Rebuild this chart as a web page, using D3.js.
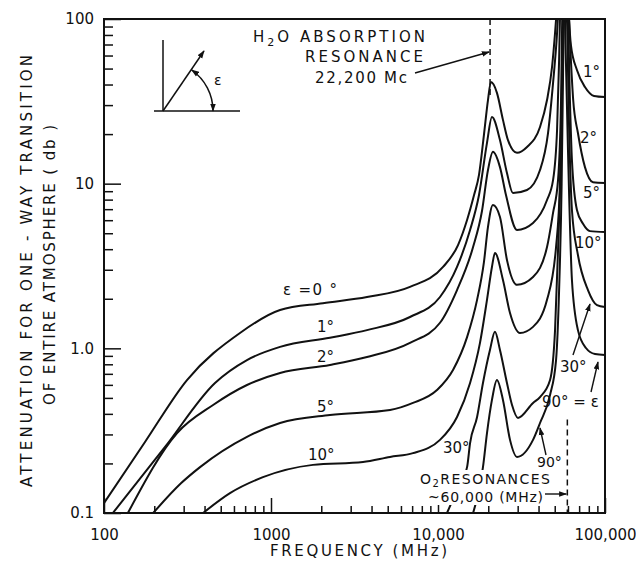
<!DOCTYPE html>
<html>
<head>
<meta charset="utf-8">
<script src="https://cdn.jsdelivr.net/npm/d3@7"></script>
<style>
body { margin: 0; background: #fff; }
text { font-family: "DejaVu Sans", sans-serif; fill: #111; }
.tick text { font-size: 15px; }
.tick line { stroke: #111; stroke-width: 1.5; }
</style>
</head>
<body>
<div id="chart"></div>
<script>
// [frecuencia MHz, atenuacion db] leidos de la grafica
// cada angulo: rama izquierda (hasta el pico de O2) y rama derecha
var elev0 = [[100,0.115],[176,0.27],[314,0.642],[652,1.24],[1133,1.71],[2046,1.88],[3758,2.05],[6795,2.36],[10720,3.12],[13180,4.24],[14930,6.02],[16440,8.53],[17600,11.3],[18840,19.8],[19920,32.2],[20750,41.4],[22540,35.6],[24490,24.4],[26240,18.4],[29720,15.4],[34120,16.7],[40820,22.1],[44960,32.2],[48180,51.1],[50220,82.2],[51630,120]];
var elev1 = [[113,0.1],[232,0.252],[462,0.616],[718,0.849],[1133,1.02],[2254,1.16],[3758,1.29],[6795,1.55],[10280,2.05],[13000,3.12],[15560,5.23],[17600,8.53],[19650,17.7],[21040,25.4],[23500,18.4],[25880,11.6],[28110,8.77],[34120,9.15],[40820,12.1],[45590,20.3],[48850,40.8],[51630,82.2],[52800,125]];
var elev2 = [[139,0.1],[274,0.306],[450,0.453],[718,0.599],[1133,0.708],[2254,0.792],[3758,0.885],[6795,1.08],[10280,1.43],[13000,2.26],[16220,4.12],[18340,6.82],[19920,12.1],[21330,15.6],[23500,12.6],[25530,8.53],[29720,5.23],[37070,5.77],[44960,7.96],[48850,10.5],[51630,21.2],[53110,56.4],[54000,125]];
var elev5 = [[197,0.1],[290,0.152],[376,0.19],[718,0.29],[1133,0.352],[2254,0.394],[5162,0.422],[7080,0.466],[9860,0.558],[12300,0.739],[14930,1.17],[17140,1.97],[18840,3.34],[19920,5.46],[21330,7.42],[23500,6.28],[25880,3.44],[29720,2.43],[37070,2.71],[44960,4.12],[48850,6.64],[52330,10.5],[54560,32.2],[55600,125]];
var elev10 = [[392,0.1],[568,0.132],[895,0.165],[1783,0.196],[3555,0.204],[5162,0.219],[7080,0.231],[10280,0.278],[13000,0.383],[15560,0.616],[17840,1.08],[19650,1.97],[21040,3.12],[21930,3.79],[24490,2.6],[26990,1.64],[30970,1.24],[37070,1.35],[44960,1.97],[50920,4.12],[53810,10.5],[55340,42.6],[56200,125]];
var elev30 = [[11320,0.1],[13180,0.142],[14930,0.19],[15560,0.266],[17140,0.383],[18590,0.616],[20470,0.977],[21930,1.26],[23500,0.977],[25880,0.616],[27750,0.453],[30120,0.378],[37070,0.466],[40820,0.506],[46880,0.642],[50220,1.29],[52330,3.95],[54560,16],[55800,60],[56500,125]];
var elev90 = [[16220,0.1],[17600,0.138],[18590,0.19],[19650,0.306],[21040,0.486],[22540,0.642],[24490,0.486],[26990,0.278],[29720,0.219],[37070,0.278],[40820,0.352],[46880,0.521],[50920,0.849],[53110,2.26],[55000,10],[56140,50],[56900,125]];

var right2 = [[60500,125],[61000,100],[62500,69.5],[67920,49],[75850,38.6],[85900,34.1],[100000,33.6]];
var right5 = [[59700,125],[60800,100],[62500,56],[64500,32.2],[68850,20.3],[75850,12.6],[84700,10.2],[100000,10.1]];
var right10 = [[58800,125],[60020,100],[61660,32.2],[63390,13.9],[67920,6.92],[73850,5.71],[81280,5.15],[100000,5.09]];
var right30 = [[58000,125],[59150,100],[60800,24.4],[63390,6.92],[68850,3.69],[79070,2.26],[89560,1.83],[100000,1.78]];
var right90 = [[57300,125],[57580,100],[60020,16],[63390,2.6],[68850,1.29],[76900,1.005],[87100,0.924],[100000,0.911]];

var ramas = [elev0, elev1, elev2, elev5, elev10, elev30, elev90, right2, right5, right10, right30, right90];

var xTicks = [100, 1000, 10000, 100000];
var xTickLabels = ["100", "1000", "10,000", "100,000"];
var yTicks = [0.1, 1, 10, 100];
var yTickLabels = ["0.1", "1.0", "10", "100"];

var h2oLinea = 20500;   // linea punteada H2O
var o2Linea = 59500;    // linea punteada O2

/* escalas */
var width = 636, height = 561;
var x = d3.scaleLog().domain([100, 100000]).range([104, 605]);
var y = d3.scaleLog().domain([0.1, 100]).range([513, 19]);

var svg = d3.select("#chart").append("svg")
  .attr("width", width)
  .attr("height", height);

var defs = svg.append("defs");
defs.append("clipPath").attr("id", "area")
  .append("rect")
  .attr("x", x(100)).attr("y", y(100))
  .attr("width", x(100000) - x(100)).attr("height", y(0.1) - y(100));
defs.append("marker")
  .attr("id", "flecha")
  .attr("viewBox", "0 0 10 10")
  .attr("refX", 9).attr("refY", 5)
  .attr("markerWidth", 8).attr("markerHeight", 8)
  .attr("markerUnits", "userSpaceOnUse")
  .attr("orient", "auto-start-reverse")
  .append("path").attr("d", "M0,1.5L10,5L0,8.5z").attr("fill", "#111");

/* ejes */
var menores = [];
[100, 1000, 10000].forEach(function (d) {
  for (var k = 2; k <= 9; k++) menores.push(d * k);
});
var menoresY = [];
[0.1, 1, 10].forEach(function (d) {
  for (var k = 2; k <= 9; k++) menoresY.push(+(d * k).toFixed(2));
});

svg.append("g")
  .attr("transform", `translate(0, ${y(0.1)})`)
  .call(d3.axisBottom(x).tickValues(menores).tickSize(-7).tickFormat(""))
  .call(g => g.select(".domain").remove());
svg.append("g")
  .attr("transform", `translate(0, ${y(0.1)})`)
  .call(d3.axisBottom(x).tickValues(xTicks).tickSize(-15).tickPadding(16)
    .tickFormat((d, i) => xTickLabels[i]))
  .call(g => g.select(".domain").remove());

svg.append("g")
  .attr("transform", `translate(${x(100)}, 0)`)
  .call(d3.axisLeft(y).tickValues(menoresY).tickSize(-9).tickFormat(""))
  .call(g => g.select(".domain").remove());
svg.append("g")
  .attr("transform", `translate(${x(100)}, 0)`)
  .call(d3.axisLeft(y).tickValues(yTicks).tickSize(-17).tickPadding(10)
    .tickFormat((d, i) => yTickLabels[i]))
  .call(g => g.select(".domain").remove());

svg.append("rect")
  .attr("x", x(100)).attr("y", y(100))
  .attr("width", x(100000) - x(100)).attr("height", y(0.1) - y(100))
  .attr("fill", "none").attr("stroke", "#111").attr("stroke-width", 2);

/* curvas */
var line = d3.line()
  .x(d => x(d[0]))
  .y(d => y(d[1]))
  .curve(d3.curveMonotoneX);

svg.append("g")
  .attr("clip-path", "url(#area)")
  .selectAll("path")
  .data(ramas).enter()
  .append("path")
  .attr("d", line)
  .attr("fill", "none")
  .attr("stroke", "#111")
  .attr("stroke-width", 2);

/* lineas punteadas */
svg.append("line")
  .attr("x1", x(h2oLinea)).attr("x2", x(h2oLinea))
  .attr("y1", y(100)).attr("y2", y(33))
  .attr("stroke", "#111").attr("stroke-width", 1.5).attr("stroke-dasharray", "6,4");

// fondo blanco del texto O2
svg.append("rect")
  .attr("x", 418).attr("y", 470).attr("width", 134).attr("height", 35)
  .attr("fill", "#fff");

svg.append("line")
  .attr("x1", x(o2Linea)).attr("x2", x(o2Linea))
  .attr("y1", y(0.37)).attr("y2", y(0.1))
  .attr("stroke", "#111").attr("stroke-width", 1.5).attr("stroke-dasharray", "6,4");

/* textos */
function texto(t, px, py, size, largo) {
  var el = svg.append("text").attr("x", px).attr("y", py)
    .style("font-size", size + "px").text(t);
  if (largo) el.attr("textLength", largo).attr("lengthAdjust", "spacing");
  return el;
}

var h2o = svg.append("text").attr("x", 253).attr("y", 42).style("font-size", "15px")
  .attr("textLength", 172).attr("lengthAdjust", "spacing");
h2o.append("tspan").text("H");
h2o.append("tspan").attr("dy", 4).style("font-size", "11px").text("2");
h2o.append("tspan").attr("dy", -4).text("O ABSORPTION");
texto("RESONANCE", 305, 62, 15, 118);
texto("22,200 Mc", 315, 83, 15, 92);

var o2 = svg.append("text").attr("x", 420).attr("y", 484).style("font-size", "14px")
  .attr("textLength", 130).attr("lengthAdjust", "spacing");
o2.append("tspan").text("O");
o2.append("tspan").attr("dy", 3).style("font-size", "10px").text("2");
o2.append("tspan").attr("dy", -3).text("RESONANCES");
texto("~60,000 (MHz)", 428, 502, 14, 115);

texto("FREQUENCY (MHz)", 270, 556, 15, 177);
svg.append("text").attr("transform", "translate(32,271) rotate(-90)")
  .attr("text-anchor", "middle").style("font-size", "15px")
  .attr("textLength", 432).attr("lengthAdjust", "spacing")
  .text("ATTENUATION FOR ONE - WAY TRANSITION");
svg.append("text").attr("transform", "translate(55,265) rotate(-90)")
  .attr("text-anchor", "middle").style("font-size", "15px")
  .attr("textLength", 280).attr("lengthAdjust", "spacing")
  .text("OF ENTIRE ATMOSPHERE ( db )");

// etiquetas de angulos
texto("\u03b5 =0 \u00b0", 283, 295, 15, 54);
texto("1\u00b0", 317, 332, 15);
texto("2\u00b0", 317, 362, 15);
texto("5\u00b0", 317, 412, 15);
texto("10\u00b0", 308, 460, 15);
texto("30\u00b0", 443, 453, 15);
texto("90\u00b0", 537, 467, 14);
texto("1\u00b0", 583, 77, 15);
texto("2\u00b0", 580, 143, 15);
texto("5\u00b0", 583, 198, 15);
texto("10\u00b0", 575, 248, 15);
texto("30\u00b0", 560, 372, 15);
texto("90\u00b0 = \u03b5", 542, 407, 15);

/* flechas */
function flecha(x1, y1, x2, y2) {
  svg.append("line")
    .attr("x1", x1).attr("y1", y1).attr("x2", x2).attr("y2", y2)
    .attr("stroke", "#111").attr("stroke-width", 1.4)
    .attr("marker-end", "url(#flecha)");
}
flecha(415, 73, x(h2oLinea) - 1, 52);
flecha(545, 494, x(o2Linea) - 1, 494);
flecha(573, 355, 590, 304);
flecha(591, 392, 598, 362);
flecha(546, 455, 540, 428);

/* diagrama del angulo */
var diag = svg.append("g").attr("stroke", "#111").attr("stroke-width", 1.5).attr("fill", "none");
diag.append("line").attr("x1", 163).attr("y1", 40).attr("x2", 163).attr("y2", 111);
diag.append("line").attr("x1", 154).attr("y1", 111).attr("x2", 240).attr("y2", 111);
diag.append("line").attr("x1", 163).attr("y1", 111).attr("x2", 204).attr("y2", 51)
  .attr("marker-end", "url(#flecha)");
diag.append("path").attr("d", "M191.7,70 A50,50 0 0,1 213,111")
  .attr("marker-start", "url(#flecha)").attr("marker-end", "url(#flecha)");
texto("\u03b5", 214, 85, 14);
</script>
</body>
</html>
